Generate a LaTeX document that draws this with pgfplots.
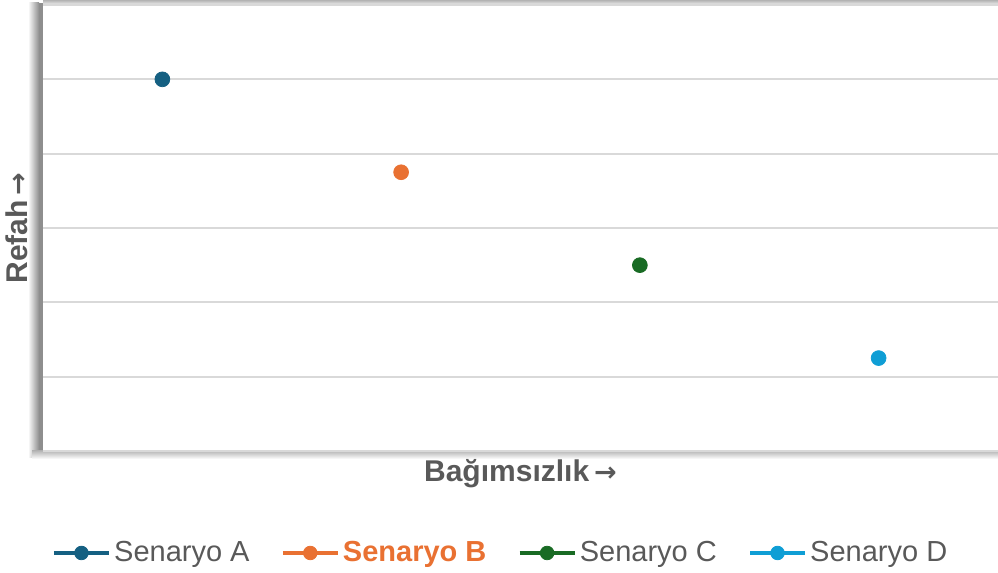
\documentclass[border=0pt]{standalone}
\usepackage{fontspec}
\setmainfont{Liberation Sans}
\newfontfamily\arrowfont{DejaVu Sans}
\usepackage{pgfplots}
\pgfplotsset{compat=1.18}
\definecolor{cA}{HTML}{156082}
\definecolor{cB}{HTML}{E97132}
\definecolor{cC}{HTML}{196B24}
\definecolor{cD}{HTML}{0F9ED5}
\definecolor{txt}{HTML}{595959}
\definecolor{grd}{HTML}{D9D9D9}
\definecolor{shd}{HTML}{8E8E8E}
\newcommand\arr{\kern2.5pt{\arrowfont\bfseries\fontsize{13.5}{14}\selectfont →}}
\pgfplotsset{
  legimg/.style={legend image code/.code={
    \draw[line width=2.2pt,color=#1] (0pt,0pt) -- (27.5pt,0pt);
    \fill[color=#1] (13.75pt,0pt) circle (3.4pt);}}
}
\begin{document}
\begin{tikzpicture}
\useasboundingbox (0pt,0pt) rectangle (499pt,286.5pt);
% shadows (1 px = 0.5pt, y = (573 - imgY)/2)
\shade[left color=white, right color=shd] (14pt,57.5pt) rectangle (19.5pt,285pt);
\fill[shd] (19.5pt,57.5pt) rectangle (21.5pt,285pt);
\shade[top color=black!28, bottom color=white] (16pt,61pt) rectangle (499pt,57pt);
\shade[top color=black!30, bottom color=white] (21.5pt,286.5pt) rectangle (499pt,283.5pt);
\begin{axis}[
  at={(21.5pt,61pt)}, anchor=south west,
  width=477.5pt, height=223pt, scale only axis,
  xmin=0.5, xmax=4.5, ymin=0, ymax=6,
  xtick=\empty, ytick={0,1,...,6}, yticklabels={},
  ymajorgrids, major grid style={color=grd, line width=1pt},
  major tick length=0pt,
  axis line style={draw=none},
  xlabel={\bfseries Bağımsızlık\arr},
  ylabel={\bfseries Refah\arr},
  label style={font=\fontsize{15}{18}\selectfont, text=txt},
  xlabel style={at={(axis description cs:0.5,-0.0516)}, anchor=center},
  ylabel style={at={(axis description cs:-0.0272,0.5)}, anchor=center},
  legend columns=4,
  legend style={at={(axis description cs:0.4796,-0.2287)}, anchor=center,
    draw=none, fill=none, font=\fontsize{14.5}{17}\selectfont, text=txt,
    /tikz/every even column/.append style={column sep=14pt},
    nodes={inner sep=1.5pt}},
  legend cell align=left,
]
\addplot[only marks, mark=*, mark size=3.7pt, color=cA, legimg=cA] coordinates {(1,5)};
\addlegendentry{Senaryo A}
\addplot[only marks, mark=*, mark size=3.7pt, color=cB, legimg=cB] coordinates {(2,3.75)};
\addlegendentry{\textcolor{cB}{\bfseries Senaryo B}}
\addplot[only marks, mark=*, mark size=3.7pt, color=cC, legimg=cC] coordinates {(3,2.5)};
\addlegendentry{Senaryo C}
\addplot[only marks, mark=*, mark size=3.7pt, color=cD, legimg=cD] coordinates {(4,1.25)};
\addlegendentry{Senaryo D}
\end{axis}
\end{tikzpicture}
\end{document}
